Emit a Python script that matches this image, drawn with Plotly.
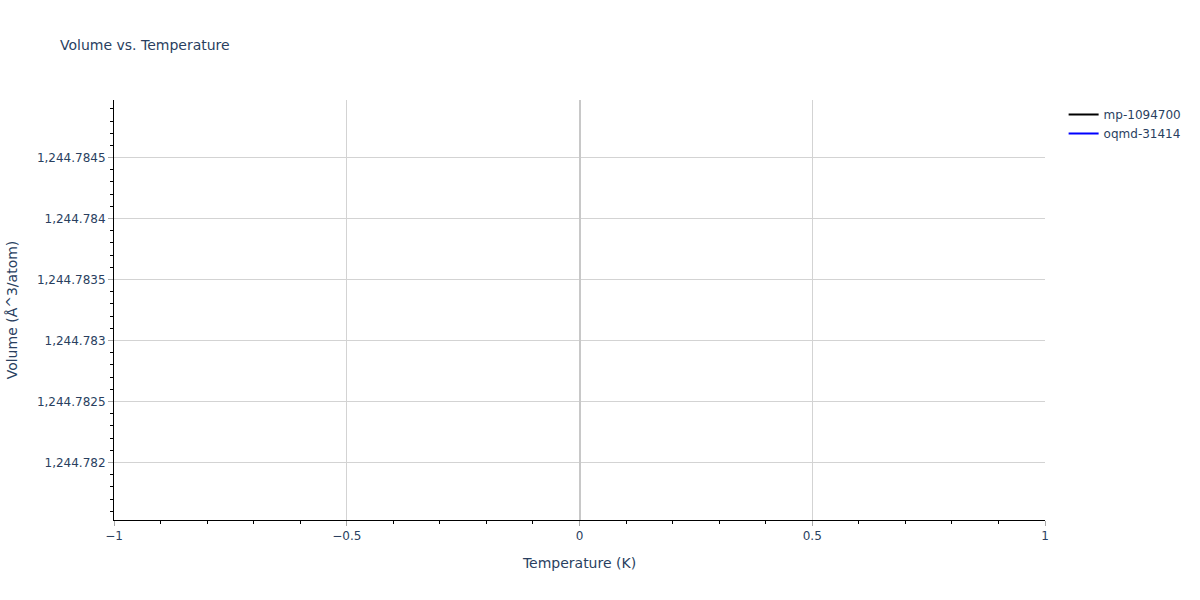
import plotly.graph_objects as go

# Data
series_names = ["mp-1094700", "oqmd-31414"]
series_colors = ["black", "blue"]
temperatures = [[0], [0]]
volumes = [[1244.7848], [1244.7817]]

fig = go.Figure()
for name, color, t, v in zip(series_names, series_colors, temperatures, volumes):
    fig.add_trace(go.Scatter(x=t, y=v, mode="lines", name=name,
                             line=dict(color=color, width=2)))

axis_common = dict(
    showline=True, linecolor="black", linewidth=1,
    showgrid=True, gridcolor="lightgray", gridwidth=1,
    ticks="outside", tickcolor="darkgray", ticklen=5,
    tickfont=dict(size=12),
    minor=dict(ticks="outside", tickcolor="black", ticklen=3, showgrid=False),
)

fig.update_layout(
    template="plotly_white",
    width=1200, height=600,
    font=dict(family="DejaVu Sans", size=12, color="#2a3f5f"),
    title=dict(text="Volume vs. Temperature", font=dict(size=14), x=0.05),
    plot_bgcolor="white", paper_bgcolor="white",
    margin=dict(l=114, r=155, t=100, b=80),
    xaxis=dict(title=dict(text="Temperature (K)", font=dict(size=14)),
               zeroline=True, zerolinecolor="#c8c8c8", zerolinewidth=2, **axis_common),
    yaxis=dict(title=dict(text="Volume (Å^3/atom)", font=dict(size=14)),
               zeroline=False, **axis_common),
    legend=dict(x=1.02, y=1, font=dict(size=12)),
)

fig.write_html("out.html", config={"displayModeBar": False},
               post_script="document.body.style.margin='0';")
